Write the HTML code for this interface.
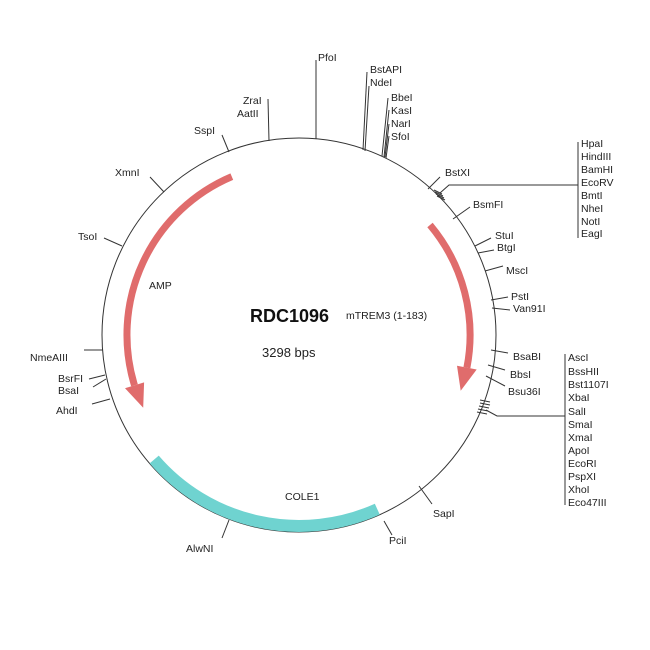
<!DOCTYPE html>
<html><head><meta charset="utf-8"><style>
html,body{margin:0;padding:0;background:#fff;}
svg{display:block;}
text{font-family:"Liberation Sans",Arial,sans-serif;font-size:10.5px;fill:#222;}
</style></head><body>
<svg width="650" height="650" viewBox="0 0 650 650" xmlns="http://www.w3.org/2000/svg">
<rect width="650" height="650" fill="#fff"/>
<circle cx="299" cy="335" r="197" fill="none" stroke="#333" stroke-width="1"/>
<path d="M154.2,459.5 A191,191 0 0 0 377.3,509.2" fill="none" stroke="#6fd3d0" stroke-width="12"/>
<path d="M231.8,176.6 A172,172 0 0 0 134.5,385.3" fill="none" stroke="#e06c6c" stroke-width="7"/>
<polygon points="125,388.2 144.1,382.4 143.2,407.7" fill="#e06c6c"/>
<path d="M430,225 A171,171 0 0 1 466.9,367.7" fill="none" stroke="#e06c6c" stroke-width="7"/>
<polygon points="476.7,369.5 457,365.7 460.7,390.7" fill="#e06c6c"/>

<g stroke="#333" stroke-width="1" fill="none">
<path d="M316,139 V60"/>
<path d="M363,150 L367,72"/><path d="M365,151 L369,86"/>
<path d="M382,156 L388,98"/><path d="M384,157 L389,110"/><path d="M385,157 L389,124"/><path d="M386,158 L389,136"/>
<path d="M428,189 L440,177"/>
<path d="M440,193 L449,185 H578"/><path d="M578,142 V238"/>
<path d="M434,190 l8,4 M435,192 l8,4 M436,194 l8,4 M437,196 l8,4"/>
<path d="M453,219 L470,207"/>
<path d="M475,246 L491,238"/><path d="M478,253 L494,250"/>
<path d="M485,271 L503,266"/>
<path d="M491,300 L508,297"/><path d="M492,308 L510,310"/>
<path d="M491,350 L508,353"/><path d="M488,365 L505,370"/><path d="M486,376 L505,386"/>
<path d="M486,410 L497,416 H565"/><path d="M565,354 V505"/>
<path d="M480,400 l10,2 M480,403 l10,2 M479,406 l10,2 M478,409 l10,2 M477,412 l10,2"/>
<path d="M419,486 L432,504"/>
<path d="M384,521 L392,535"/>
<path d="M229,520 L222,538"/>
<path d="M110,399 L92,404"/>
<path d="M105,375 L89,379"/><path d="M106,379 L93,387"/>
<path d="M103,350 L84,350"/>
<path d="M122,246 L104,238"/>
<path d="M164,192 L150,177"/>
<path d="M229,152 L222,135"/>
<path d="M269,141 L268,99"/>
</g>

<text x="318" y="61">PfoI</text>
<text x="370" y="73">BstAPI</text>
<text x="370" y="86">NdeI</text>
<text x="391" y="101">BbeI</text>
<text x="391" y="114">KasI</text>
<text x="391" y="127">NarI</text>
<text x="391" y="140">SfoI</text>
<text x="445" y="176">BstXI</text>
<text x="581" y="147">HpaI</text>
<text x="581" y="160">HindIII</text>
<text x="581" y="173">BamHI</text>
<text x="581" y="186">EcoRV</text>
<text x="581" y="199">BmtI</text>
<text x="581" y="212">NheI</text>
<text x="581" y="225">NotI</text>
<text x="581" y="237">EagI</text>
<text x="473" y="208">BsmFI</text>
<text x="495" y="239">StuI</text>
<text x="497" y="251">BtgI</text>
<text x="506" y="274">MscI</text>
<text x="511" y="300">PstI</text>
<text x="513" y="312">Van91I</text>
<text x="513" y="360">BsaBI</text>
<text x="510" y="378">BbsI</text>
<text x="508" y="395">Bsu36I</text>
<text x="568" y="361">AscI</text>
<text x="568" y="375">BssHII</text>
<text x="568" y="388">Bst1107I</text>
<text x="568" y="401">XbaI</text>
<text x="568" y="415">SalI</text>
<text x="568" y="428">SmaI</text>
<text x="568" y="441">XmaI</text>
<text x="568" y="454">ApoI</text>
<text x="568" y="467">EcoRI</text>
<text x="568" y="480">PspXI</text>
<text x="568" y="493">XhoI</text>
<text x="568" y="506">Eco47III</text>
<text x="433" y="517">SapI</text>
<text x="389" y="544">PciI</text>
<text x="186" y="552">AlwNI</text>
<text x="285" y="500">COLE1</text>
<text x="56" y="414">AhdI</text>
<text x="58" y="382">BsrFI</text>
<text x="58" y="394">BsaI</text>
<text x="30" y="361">NmeAIII</text>
<text x="78" y="240">TsoI</text>
<text x="115" y="176">XmnI</text>
<text x="194" y="134">SspI</text>
<text x="243" y="104">ZraI</text>
<text x="237" y="117">AatII</text>
<text x="149" y="289">AMP</text>
<text x="250" y="322" style="font-size:18px;font-weight:bold;fill:#111">RDC1096</text>
<text x="346" y="319">mTREM3 (1-183)</text>
<text x="262" y="357" style="font-size:13px">3298 bps</text>
</svg>
</body></html>
